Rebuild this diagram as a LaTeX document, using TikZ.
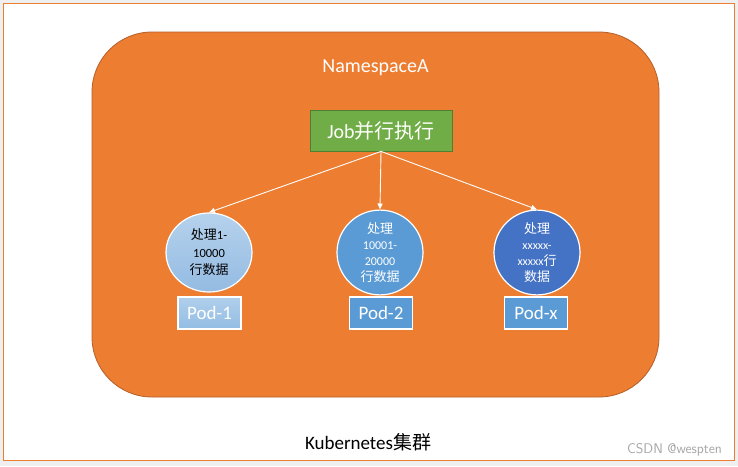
\documentclass[tikz,border=0pt]{standalone}
\usepackage{fontspec}
\setmainfont{Carlito}
\newfontfamily\cjk{Noto Sans CJK SC}
\usetikzlibrary{arrows.meta,shapes.geometric}
\definecolor{bggrey}{HTML}{EFEFEF}
\definecolor{frameor}{HTML}{ED7D31}
\definecolor{nsfill}{HTML}{ED7D31}
\definecolor{nsdraw}{HTML}{B5602A}
\definecolor{jobfill}{HTML}{70AD47}
\definecolor{jobdraw}{HTML}{507E32}
\definecolor{lblue}{HTML}{9DC3E6}
\definecolor{mblue}{HTML}{5B9BD5}
\definecolor{dblue}{HTML}{4472C4}
\definecolor{wmgrey}{HTML}{A6A6A6}
\tikzset{
  podcircle/.style={ellipse, draw=white, line width=1.2pt, minimum width=86pt, minimum height=79pt, inner sep=0pt, align=center},
  podbox/.style={draw=white, line width=1.5pt, minimum width=63pt, minimum height=32pt, inner sep=0pt, text=white, font=\fontsize{19}{22}\selectfont},
  arr/.style={draw=white, line width=0.9pt, -{Triangle[width=5pt,length=6pt]}},
}
\newcommand{\zh}[1]{{\cjk #1}}
\begin{document}
\begin{tikzpicture}[x=1pt,y=-1pt]
\useasboundingbox (0,0) rectangle (738,466);
\fill[bggrey] (0,0) rectangle (738,466);
\draw[frameor, fill=white, line width=1pt] (3,3) rectangle (734,460);
\draw[nsdraw, fill=nsfill, line width=0.8pt, rounded corners=60pt] (92,32) rectangle (659,397);
\node[text=white, font=\fontsize{20}{24}\selectfont] (ns) at (375.5,68) {NamespaceA};
\node[draw=jobdraw, fill=jobfill, line width=0.8pt, minimum width=142pt, minimum height=41pt, inner sep=0pt, text=white, font=\fontsize{20}{24}\selectfont] (job) at (381,130.5) {Job\zh{并行执行}};
\node[podcircle, top color=lblue!75!white, bottom color=lblue!90!dblue, text=black, font=\fontsize{13}{17.5}\selectfont] (c1) at (209,252.5)
  {\zh{处理}{\fontsize{12.5}{17.5}\selectfont 1-}\\{\fontsize{12.5}{17.5}\selectfont 10000}\\\zh{行数据}};
\node[podcircle, fill=mblue, text=white, font=\fontsize{13}{16}\selectfont] (c2) at (380,252.5)
  {\zh{处理}\\{\fontsize{12}{16}\selectfont 10001-}\\{\fontsize{12}{16}\selectfont 20000}\\\zh{行数据}};
\node[podcircle, fill=dblue, text=white, font=\fontsize{13}{16}\selectfont] (c3) at (537,252.5)
  {\zh{处理}\\{\fontsize{12}{16}\selectfont xxxxx-}\\{\fontsize{12}{16}\selectfont xxxxx}\zh{行}\\\zh{数据}};
\node[podbox, top color=lblue!80!white, bottom color=lblue!85!mblue] (p1) at (209.5,313) {Pod-1};
\node[podbox, fill=mblue] (p2) at (381,313) {Pod-2};
\node[podbox, fill=mblue] (p3) at (536,313) {Pod-x};
\draw[arr] (job.south) -- (c1.north);
\draw[arr] (job.south) -- (c2.north);
\draw[arr] (job.south) -- (c3.north);
\node[text=black, font=\fontsize{19}{22}\selectfont] (k8s) at (368,442) {Kubernetes\zh{集群}};
\node[text=wmgrey, font=\fontsize{14}{16}\selectfont\sffamily] (wm) at (674.5,450) {CSDN @wespten};
\end{tikzpicture}
\end{document}
